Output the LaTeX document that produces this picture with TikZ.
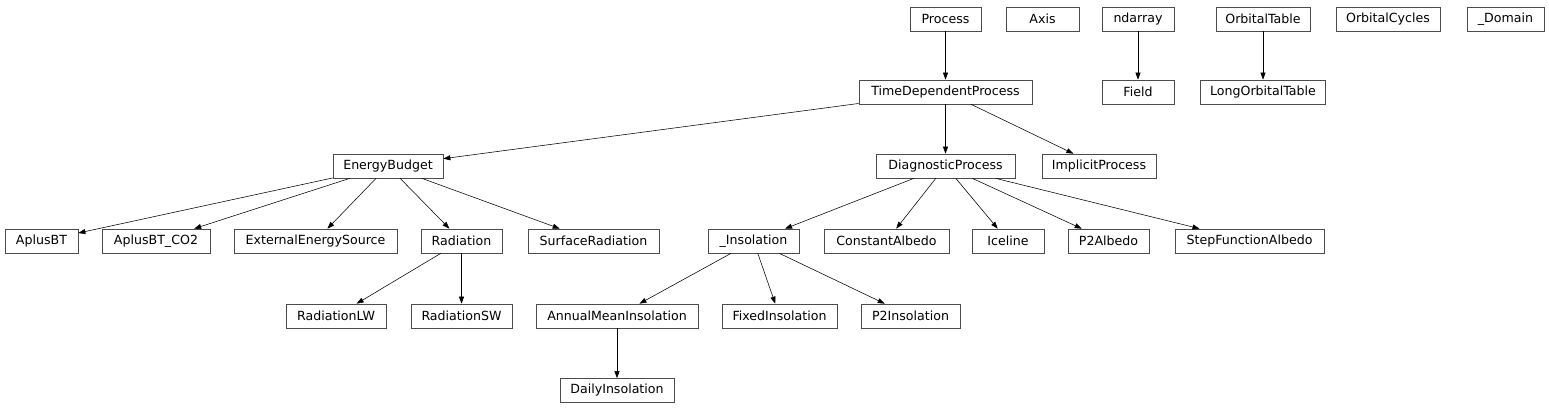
\documentclass[tikz,border=0pt]{standalone}
\usepackage{fontspec}
\setmainfont{DejaVu Sans}
\usetikzlibrary{arrows.meta}
\begin{document}
\begin{tikzpicture}[x=1pt,y=-1pt,
  cls/.style={draw=black!70,line width=0.7pt,rectangle,inner sep=0pt,minimum height=24pt,
    font=\fontsize{12.6}{14}\selectfont,text=black},
  inh/.style={draw=black,line width=0.55pt,-{Triangle[length=7pt,width=5pt]}}]
\fill[white] (0,0) rectangle (1549,411);
\useasboundingbox (0,0) rectangle (1549,411);
% row 1
\node[cls,minimum width=71pt] (Process) at (945.5,19) {Process};
\node[cls,minimum width=73pt] (Axis) at (1042.5,19) {Axis};
\node[cls,minimum width=72pt] (ndarray) at (1138,19) {ndarray};
\node[cls,minimum width=94pt] (OrbitalTable) at (1263,19) {OrbitalTable};
\node[cls,minimum width=104pt] (OrbitalCycles) at (1388,19) {OrbitalCycles};
\node[cls,minimum width=77pt] (Domain) at (1505.5,19) {\_Domain};
% row 2
\node[cls,minimum width=173pt] (TDP) at (945.5,92) {TimeDependentProcess};
\node[cls,minimum width=72pt] (Field) at (1138,92) {Field};
\node[cls,minimum width=125pt] (LongOrbitalTable) at (1263,92) {LongOrbitalTable};
% row 3
\node[cls,minimum width=110pt] (EnergyBudget) at (388,166) {EnergyBudget};
\node[cls,minimum width=139pt] (DP) at (945.5,166) {DiagnosticProcess};
\node[cls,minimum width=114pt] (IP) at (1099,166) {ImplicitProcess};
% row 4
\node[cls,minimum width=73pt] (AplusBT) at (41.5,241) {AplusBT};
\node[cls,minimum width=108pt] (AplusBTCO) at (156,241) {AplusBT\_CO2};
\node[cls,minimum width=163pt] (EES) at (315.5,241) {ExternalEnergySource};
\node[cls,minimum width=81pt] (Radiation) at (461.5,241) {Radiation};
\node[cls,minimum width=131pt] (SR) at (593.5,241) {SurfaceRadiation};
\node[cls,minimum width=91pt] (Insolation) at (753.5,241) {\_Insolation};
\node[cls,minimum width=125pt] (CA) at (886.5,241) {ConstantAlbedo};
\node[cls,minimum width=72pt] (Iceline) at (1008,241) {Iceline};
\node[cls,minimum width=81pt] (P2Albedo) at (1108.5,241) {P2Albedo};
\node[cls,minimum width=149pt] (SFA) at (1249.5,241) {StepFunctionAlbedo};
% row 5
\node[cls,minimum width=100pt] (RLW) at (336,316) {RadiationLW};
\node[cls,minimum width=101pt] (RSW) at (461.5,316) {RadiationSW};
\node[cls,minimum width=162pt] (AMI) at (617,316) {AnnualMeanInsolation};
\node[cls,minimum width=115pt] (FI) at (779.5,316) {FixedInsolation};
\node[cls,minimum width=99pt] (P2I) at (910.5,316) {P2Insolation};
% row 6
\node[cls,minimum width=114pt] (DI) at (617,390.5) {DailyInsolation};
% edges
\draw[inh] (Process) -- (TDP);
\draw[inh] (ndarray) -- (Field);
\draw[inh] (OrbitalTable) -- (LongOrbitalTable);
\draw[inh] (TDP) -- (EnergyBudget);
\draw[inh] (TDP) -- (DP);
\draw[inh] (TDP) -- (IP);
\draw[inh] (EnergyBudget) -- (AplusBT);
\draw[inh] (EnergyBudget) -- (AplusBTCO);
\draw[inh] (EnergyBudget) -- (EES);
\draw[inh] (EnergyBudget) -- (Radiation);
\draw[inh] (EnergyBudget) -- (SR);
\draw[inh] (Radiation) -- (RLW);
\draw[inh] (Radiation) -- (RSW);
\draw[inh] (DP) -- (Insolation);
\draw[inh] (DP) -- (CA);
\draw[inh] (DP) -- (Iceline);
\draw[inh] (DP) -- (P2Albedo);
\draw[inh] (DP) -- (SFA);
\draw[inh] (Insolation) -- (AMI);
\draw[inh] (Insolation) -- (FI);
\draw[inh] (Insolation) -- (P2I);
\draw[inh] (AMI) -- (DI);
\end{tikzpicture}
\end{document}
